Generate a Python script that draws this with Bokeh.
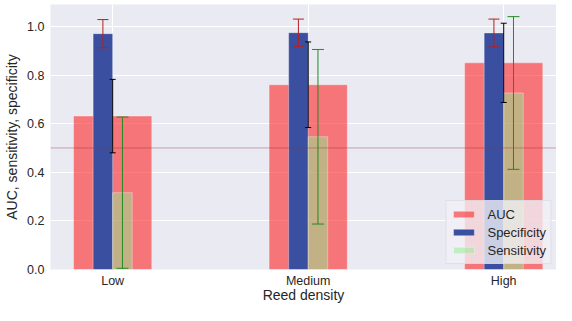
from bokeh.plotting import figure
from bokeh.models import (ColumnDataSource, Whisker, TeeHead, Span,
                          FixedTicker, Legend, LegendItem, PrintfTickFormatter)
from bokeh.embed import file_html
from bokeh.resources import INLINE

# ---- data ----
categories = ["Low", "Medium", "High"]
auc = [0.631, 0.760, 0.850]
auc_err = [0.151, 0.176, 0.163]
specificity = [0.970, 0.974, 0.973]
spec_err = [0.058, 0.056, 0.057]
sensitivity = [0.316, 0.546, 0.726]
sens_err = [0.311, 0.359, 0.314]
y_ticks = [0.0, 0.2, 0.4, 0.6, 0.8, 1.0]
chance_level = 0.5
x_title = "Reed density"
y_title = "AUC, sensitivity, specificity"

FONT = "Liberation Sans"
TXT = "#262626"

xs = list(range(len(categories)))
bar_w = 0.1
src = ColumnDataSource(dict(
    x=xs,
    x_spec=[x - bar_w / 2 for x in xs],
    x_sens=[x + bar_w / 2 for x in xs],
    auc=auc,
    auc_up=[v + e for v, e in zip(auc, auc_err)],
    auc_lo=[v - e for v, e in zip(auc, auc_err)],
    spec=specificity,
    spec_up=[v + e for v, e in zip(specificity, spec_err)],
    spec_lo=[v - e for v, e in zip(specificity, spec_err)],
    sens=sensitivity,
    sens_up=[v + e for v, e in zip(sensitivity, sens_err)],
    sens_lo=[v - e for v, e in zip(sensitivity, sens_err)],
))

p = figure(width=556, height=305, x_range=(-0.318, 2.27), y_range=(0, 1.09),
           output_backend="svg", toolbar_location=None,
           min_border_left=50, min_border_right=0, min_border_top=4,
           min_border_bottom=32)
p.background_fill_color = "#EAEAF2"
p.border_fill_color = "white"
p.outline_line_color = None

p.xgrid.grid_line_color = "white"
p.ygrid.grid_line_color = "white"
p.xgrid.grid_line_width = 1
p.ygrid.grid_line_width = 1

p.xaxis.ticker = FixedTicker(ticks=xs)
p.xaxis.major_label_overrides = {i: c for i, c in enumerate(categories)}
p.yaxis.ticker = FixedTicker(ticks=y_ticks)
p.yaxis.formatter = PrintfTickFormatter(format="%.1f")
for ax in (p.xaxis, p.yaxis):
    ax.axis_line_color = None
    ax.major_tick_line_color = None
    ax.minor_tick_line_color = None
    ax.major_tick_out = 0
    ax.major_tick_in = 0
    ax.major_label_text_font = FONT
    ax.major_label_text_font_size = "12.5px"
    ax.major_label_text_color = TXT
    ax.axis_label_text_font = FONT
    ax.axis_label_text_font_size = "14px"
    ax.axis_label_text_font_style = "normal"
    ax.axis_label_text_color = TXT
p.xaxis.major_label_standoff = 4
p.yaxis.major_label_standoff = 6
p.yaxis.axis_label = y_title
p.yaxis.axis_label_standoff = 4
p.xaxis.axis_label = x_title
p.xaxis.axis_label_standoff = -4

r_auc = p.vbar(x="x", top="auc", width=4 * bar_w, source=src,
               fill_color="red", fill_alpha=0.5, line_color="white", line_alpha=0.35)
r_spec = p.vbar(x="x_spec", top="spec", width=bar_w, source=src,
                fill_color="#3A4F9F", fill_alpha=1.0, line_color="white", line_alpha=0.35)
r_sens = p.vbar(x="x_sens", top="sens", width=bar_w, source=src,
                fill_color="lightgreen", fill_alpha=0.5, line_color="white", line_alpha=0.35)

def whisker(base, up, lo, color, size):
    w = Whisker(base=base, upper=up, lower=lo, source=src, dimension="height",
                line_color=color, line_width=1, level="annotation",
                upper_head=TeeHead(size=size, line_color=color, line_width=1),
                lower_head=TeeHead(size=size, line_color=color, line_width=1))
    p.add_layout(w)

whisker("x_spec", "spec_up", "spec_lo", "#B22222", 11)
whisker("x", "auc_up", "auc_lo", "black", 6)
whisker("x_sens", "sens_up", "sens_lo", "#228B22", 12)

p.add_layout(Span(location=chance_level, dimension="width", line_color="#963240",
                  line_alpha=0.4, line_width=1, level="overlay"))

legend = Legend(items=[LegendItem(label="AUC", renderers=[r_auc]),
                       LegendItem(label="Specificity", renderers=[r_spec]),
                       LegendItem(label="Sensitivity", renderers=[r_sens])],
                location="bottom_right", background_fill_color="#F0F0F5",
                background_fill_alpha=0.8, border_line_color="#D0D0D8",
                label_text_font=FONT, label_text_font_size="13px",
                label_text_color=TXT, glyph_width=26, glyph_height=8,
                label_standoff=11, padding=4, spacing=0, label_height=18,
                margin=5)
p.add_layout(legend, "center")

open("out.html", "w").write(file_html(p, INLINE))
